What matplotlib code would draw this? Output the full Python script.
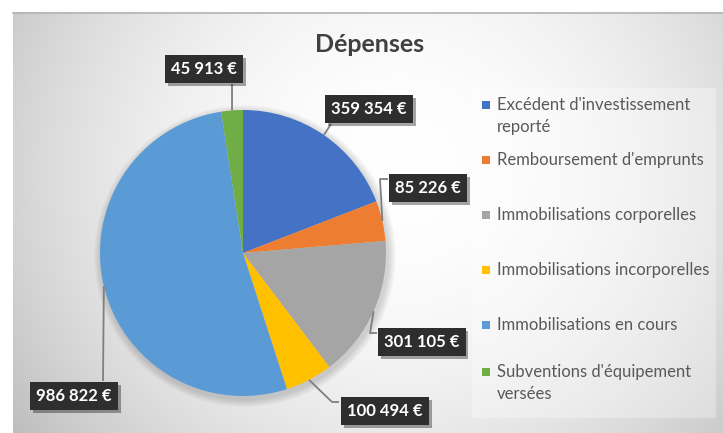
import numpy as np
import matplotlib
matplotlib.use("Agg")
import matplotlib.pyplot as plt
from matplotlib.patches import Rectangle, Circle
import matplotlib.patheffects as pe

# ---- data ----
categories = [
    "Excédent d'investissement\nreporté",
    "Remboursement d'emprunts",
    "Immobilisations corporelles",
    "Immobilisations incorporelles",
    "Immobilisations en cours",
    "Subventions d'équipement\nversées",
]
values = [359354, 85226, 301105, 100494, 986822, 45913]
colors = ["#4472C4", "#ED7D31", "#A5A5A5", "#FFC000", "#5B9BD5", "#70AD47"]
title = "Dépenses"

# ---- layout (pixel coords, y down) ----
W, H = 723, 433
cx, cy, r = 243, 253, 143
# label box centres and leader elbows/ends
label_pos = [(369, 109), (428, 188), (422, 342), (385, 411), (74, 396), (204, 69)]
leader_pts = [
    [(331, 124)],
    [(380, 179), (388, 179)],
    [(370, 333), (377, 333)],
    [(332, 402), (339, 402)],
    [(103, 381)],
    [(232, 84)],
]
legend_y = [105, 160, 215, 270, 325, 372]

plt.rcParams["font.family"] = ["Lato", "DejaVu Sans"]

fig = plt.figure(figsize=(W / 100, H / 100), dpi=100)
fig.patch.set_facecolor("white")
ax = fig.add_axes([0, 0, 1, 1])

# radial gradient background of the chart area
x0, y0 = 13, 12
xs = np.arange(x0, W) + 0.5
ys = np.arange(y0, H) + 0.5
XX, YY = np.meshgrid(xs, ys)
d2 = (XX - 400) ** 2 + ((YY - 170) * 1.05) ** 2
g = np.clip(255 - 2.9e-4 * d2, 190, 255) / 255.0
ax.imshow(np.dstack([g, g, g]), extent=(x0, W, H, y0), zorder=0,
          interpolation="bilinear", aspect="auto")
ax.plot([x0, W], [y0 + 0.5, y0 + 0.5], color="#b4b4b4", lw=1.2, zorder=1)

# soft pie shadow
for k in range(8):
    ax.add_patch(Circle((cx + 2, cy + 3), r + 8 - k, fc="black",
                        ec="none", alpha=0.018, zorder=1))

wedges, _ = ax.pie(values, colors=colors, startangle=-90, counterclock=True,
                   center=(cx, cy), radius=r,
                   wedgeprops=dict(linewidth=0), frame=True)
for w in wedges:
    w.set_zorder(2)

# data labels with leader lines
for w, v, (lx, ly), pts in zip(wedges, values, label_pos, leader_pts):
    mid = np.deg2rad((w.theta1 + w.theta2) / 2)
    ax0 = cx + r * np.cos(mid)
    ay0 = cy + r * np.sin(mid)
    px = [ax0] + [p[0] for p in pts]
    py = [ay0] + [p[1] for p in pts]
    ax.plot(px, py, color="#7f7f7f", lw=1.3, zorder=3,
            solid_capstyle="butt")
    txt = f"{v:,}".replace(",", " ") + " €"
    t = ax.text(lx, ly, txt, ha="center", va="center", color="white",
                fontsize=12, fontweight="bold", zorder=5,
                bbox=dict(boxstyle="square,pad=0.36", fc="#2e2e2e",
                          ec="none"))
    t.get_bbox_patch().set_path_effects(
        [pe.withSimplePatchShadow(offset=(2, -2), shadow_rgbFace="black",
                                  alpha=0.35), pe.Normal()])

# title
ax.text(370, 45, title, ha="center", va="center", fontsize=18,
        fontweight="bold", color="#404040", zorder=5)

# legend
ax.add_patch(Rectangle((472, 88), 244, 330, fc="white", ec="none",
                       alpha=0.3, zorder=1))
for lab, col, ly in zip(categories, colors, legend_y):
    ax.add_patch(Rectangle((482, ly - 4.5), 8, 8, fc=col, ec="none",
                           zorder=4))
    for i, line in enumerate(lab.split("\n")):
        ax.text(497, ly + i * 22, line, ha="left", va="center",
                fontsize=12, color="#595959", zorder=4)

ax.set_xlim(0, W)
ax.set_ylim(H, 0)
ax.set_aspect("auto")
ax.axis("off")

fig.savefig("out.png", dpi=100)
